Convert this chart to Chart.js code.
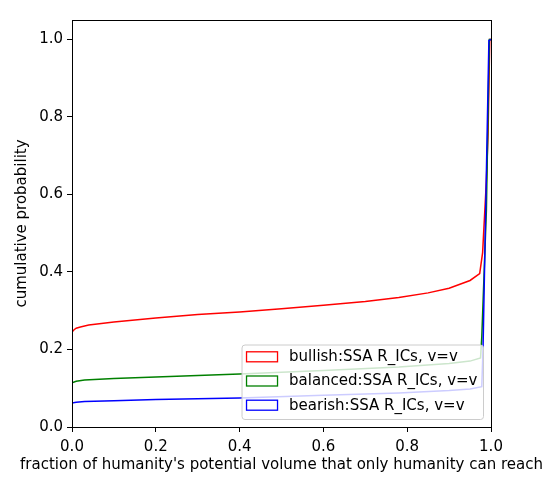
<!DOCTYPE html>
<html><head><meta charset="utf-8">
<script src="https://cdn.jsdelivr.net/npm/chart.js@4.4.1/dist/chart.umd.min.js"></script>
<style>html,body{margin:0;padding:0;background:#fff;} canvas{display:block;}</style>
</head><body>
<canvas id="c" width="550" height="487"></canvas>
<script>
const seriesLabels = ["bullish:SSA R_ICs, v=v", "balanced:SSA R_ICs, v=v", "bearish:SSA R_ICs, v=v"];
const seriesColors = ["#ff0000", "#008000", "#0000ff"];

const bullishX = [0, 0, 0.005, 0.01, 0.02, 0.04, 0.07, 0.1, 0.2, 0.3, 0.4, 0.5, 0.6, 0.7, 0.78, 0.85, 0.9, 0.95, 0.973, 0.98, 0.989, 0.993, 0.997, 1.0];
const bullishY = [0, 0.245, 0.251, 0.255, 0.258, 0.263, 0.267, 0.271, 0.281, 0.290, 0.297, 0.305, 0.314, 0.324, 0.334, 0.346, 0.358, 0.378, 0.396, 0.45, 0.636, 0.757, 1.0, 1.0];

const balancedX = [0, 0, 0.01, 0.03, 0.1, 0.2, 0.4, 0.6, 0.78, 0.9, 0.95, 0.975, 0.978, 0.989, 0.996, 1.0];
const balancedY = [0, 0.114, 0.118, 0.121, 0.125, 0.129, 0.137, 0.146, 0.155, 0.164, 0.170, 0.178, 0.232, 0.559, 1.0, 1.0];

const bearishX = [0, 0, 0.01, 0.03, 0.1, 0.2, 0.4, 0.6, 0.78, 0.9, 0.95, 0.978, 0.981, 0.995, 1.0];
const bearishY = [0, 0.062, 0.064, 0.066, 0.068, 0.071, 0.075, 0.082, 0.088, 0.094, 0.098, 0.104, 0.203, 0.997, 1.0];

const xTicks = [0, 0.2, 0.4, 0.6, 0.8, 1.0];
const yTicks = [0, 0.2, 0.4, 0.6, 0.8, 1.0];
const xTitle = "fraction of humanity's potential volume that only humanity can reach";
const yTitle = "cumulative probability";

function pts(xs, ys){ return xs.map((x,i)=>({x:x, y:ys[i]})); }

const FONT = "15px 'DejaVu Sans', sans-serif";
Chart.defaults.font.family = "'DejaVu Sans', sans-serif";
Chart.defaults.font.size = 15;
Chart.defaults.color = '#000';

const frame = {
  id: 'frame',
  afterDatasetsDraw(chart){
    const {ctx, chartArea:a} = chart;
    ctx.save();
    ctx.strokeStyle = '#000';
    ctx.lineWidth = 1;
    ctx.strokeRect(Math.round(a.left)+0.5, Math.round(a.top)+0.5, Math.round(a.right-a.left), Math.round(a.bottom-a.top));
    ctx.fillStyle = '#000';
    ctx.font = FONT;
    ctx.textAlign = 'center';
    ctx.textBaseline = 'middle';
    ctx.fillText(xTitle, (a.left + a.right) / 2, a.bottom + 38);
    ctx.restore();
  }
};

const insideLegend = {
  id: 'insideLegend',
  afterDatasetsDraw(chart){
    const {ctx, chartArea:a} = chart;
    const ds = chart.data.datasets;
    ctx.save();
    ctx.font = FONT;
    let maxW = 0;
    ds.forEach(d => { maxW = Math.max(maxW, ctx.measureText(d.label).width); });
    const handleW = 31, handleH = 10, padL = 4.5, gap = 11.5, padR = 6;
    const rowH = 24.2;
    const bw = padL + handleW + gap + maxW + padR;
    const bh = 74.5;
    const right = a.right - 7.5, bottom = a.bottom - 7.5;
    const bx = right - bw, by = bottom - bh;
    const r = 3;
    ctx.beginPath();
    ctx.moveTo(bx + r, by);
    ctx.lineTo(bx + bw - r, by);
    ctx.arcTo(bx + bw, by, bx + bw, by + r, r);
    ctx.lineTo(bx + bw, by + bh - r);
    ctx.arcTo(bx + bw, by + bh, bx + bw - r, by + bh, r);
    ctx.lineTo(bx + r, by + bh);
    ctx.arcTo(bx, by + bh, bx, by + bh - r, r);
    ctx.lineTo(bx, by + r);
    ctx.arcTo(bx, by, bx + r, by, r);
    ctx.closePath();
    ctx.fillStyle = 'rgba(255,255,255,0.8)';
    ctx.fill();
    ctx.strokeStyle = '#cccccc';
    ctx.lineWidth = 1;
    ctx.stroke();
    ds.forEach((d, i) => {
      const cy = by + 11.8 + i * rowH;
      ctx.strokeStyle = d.borderColor;
      ctx.lineWidth = 1.3;
      ctx.strokeRect(bx + padL, cy - handleH/2, handleW, handleH);
      ctx.fillStyle = '#000';
      ctx.textBaseline = 'middle';
      ctx.textAlign = 'left';
      ctx.fillText(d.label, bx + padL + handleW + gap, cy + 0.5);
    });
    ctx.restore();
  }
};

const datasets = [
  {label: seriesLabels[0], data: pts(bullishX, bullishY), borderColor: seriesColors[0], order: 3},
  {label: seriesLabels[1], data: pts(balancedX, balancedY), borderColor: seriesColors[1], order: 2},
  {label: seriesLabels[2], data: pts(bearishX, bearishY), borderColor: seriesColors[2], order: 1}
].map(d => Object.assign(d, {borderWidth: 1.5, pointRadius: 0, fill: false, tension: 0, backgroundColor: 'transparent'}));

new Chart(document.getElementById('c'), {
  type: 'line',
  data: { datasets },
  plugins: [frame, insideLegend],
  options: {
    responsive: false,
    animation: false,
    devicePixelRatio: 1,
    layout: { padding: { left: 0, right: 59, top: 20, bottom: 0 } },
    plugins: { legend: { display: false }, tooltip: { enabled: false } },
    scales: {
      x: {
        type: 'linear', min: 0, max: 1.0,
        afterBuildTicks: s => { s.ticks = xTicks.map(v => ({value: v})); },
        afterFit: s => { s.height = 60; },
        ticks: { callback: v => Number(v).toFixed(1), padding: 6, maxRotation: 0, color: '#000' },
        grid: { drawOnChartArea: false, drawTicks: true, tickLength: 5, color: '#000' },
        border: { color: '#000', width: 1 },
        title: { display: false }
      },
      y: {
        type: 'linear', min: 0, max: 1.05,
        afterBuildTicks: s => { s.ticks = yTicks.map(v => ({value: v})); },
        afterFit: s => { s.width = 72; },
        ticks: { callback: v => Number(v).toFixed(1), padding: 4, color: '#000' },
        grid: { drawOnChartArea: false, drawTicks: true, tickLength: 5, color: '#000' },
        border: { color: '#000', width: 1 },
        title: { display: true, text: yTitle, color: '#000', padding: { top: 13, bottom: 0 } }
      }
    }
  }
});
</script>
</body></html>
